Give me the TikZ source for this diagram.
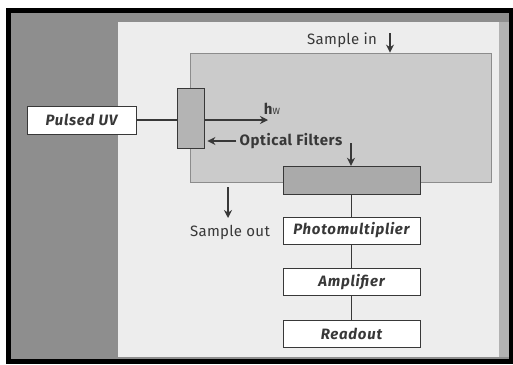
\documentclass[tikz,border=0pt]{standalone}
\usepackage{fontspec}
\setmainfont{Fira Sans}
\usepackage{tikz}
\usetikzlibrary{arrows.meta,positioning}

\definecolor{stripgray}{HTML}{8E8E8E}
\definecolor{panelgray}{HTML}{EDEDED}
\definecolor{cellgray}{HTML}{CBCBCB}
\definecolor{filtgray}{HTML}{B4B4B4}
\definecolor{wingray}{HTML}{AAAAAA}
\definecolor{inkgray}{HTML}{383838}

\begin{document}
\begin{tikzpicture}[x=1pt, y=-1pt,
    box/.style={draw=inkgray, line width=0.8pt, fill=white, minimum width=137pt,
                minimum height=27pt, inner sep=0pt,
                font=\fontsize{15}{17}\selectfont\bfseries\itshape\addfontfeatures{LetterSpace=5}, text=inkgray},
    part/.style={draw=inkgray, line width=0.8pt, inner sep=0pt},
    txt/.style={font=\fontsize{15}{17}\selectfont\addfontfeatures{LetterSpace=2}, text=inkgray, inner sep=0pt},
    arr/.style={-{Stealth[length=8pt, width=8pt]}, line width=1.8pt, draw=inkgray},
    wire/.style={line width=0.9pt, draw=inkgray}
]
    \useasboundingbox (0,0) rectangle (513,364);
    % frame and backdrop
    \fill[stripgray] (10,12) rectangle (510,361);
    \fill[black!30] (499,22) rectangle (510,357);
    \fill[panelgray] (118,22) rectangle (499,357);
    \draw[line width=5pt] (8,10.5) rectangle (511,361.5);

    % sample cell
    \node[part, fill=cellgray, draw=black!45, minimum width=301pt, minimum height=129pt] (cell) at (340.5,117.5) {};
    \node[part, fill=filtgray, minimum width=27pt, minimum height=60pt] (filt) at (190.5,118) {};
    \node[box, minimum width=109pt, minimum height=28pt] (uv) at (81.5,120) {Pulsed UV};

    % detector chain
    \node[box] (pmt) at (351.5,230.5) {Photomultiplier};
    \node[part, fill=wingray, minimum width=137pt, minimum height=28pt, above=22pt of pmt] (win) {};
    \node[box, below=24pt of pmt] (amp) {Amplifier};
    \node[box, below=24pt of amp] (rd) {Readout};

    % labels
    \node[txt] (sin) at (342,40) {Sample in};
    \node[txt, font=\fontsize{15}{17}\selectfont\bfseries] (hv) at (272,109) {h{\small\mdseries W}};
    \node[txt, font=\fontsize{15}{17}\selectfont\bfseries\addfontfeatures{LetterSpace=4}] (of) at (291,141) {Optical Filters};
    \node[txt] (sout) at (230,232) {Sample out};

    \coordinate (beam) at (268,120);
    \coordinate (sinTop) at (390,33);
    \coordinate (ofTop) at (351,143);
    \coordinate (soutTop) at (228,187);

    \draw[wire, line width=1.3pt] (uv.east) -- (uv.east -| filt.west);
    \draw[arr] (filt.east |- beam) -- (beam);
    \draw[arr] ([xshift=-3pt]of.west) -- ([xshift=3pt]filt.east |- of.west);
    \draw[arr] (sinTop) -- (sinTop |- cell.north);
    \draw[arr] (ofTop) -- (ofTop |- win.north);
    \draw[arr] (soutTop) -- ++(0,31);

    \draw[wire] (win) -- (pmt);
    \draw[wire] (pmt) -- (amp);
    \draw[wire] (amp) -- (rd);
\end{tikzpicture}
\end{document}
